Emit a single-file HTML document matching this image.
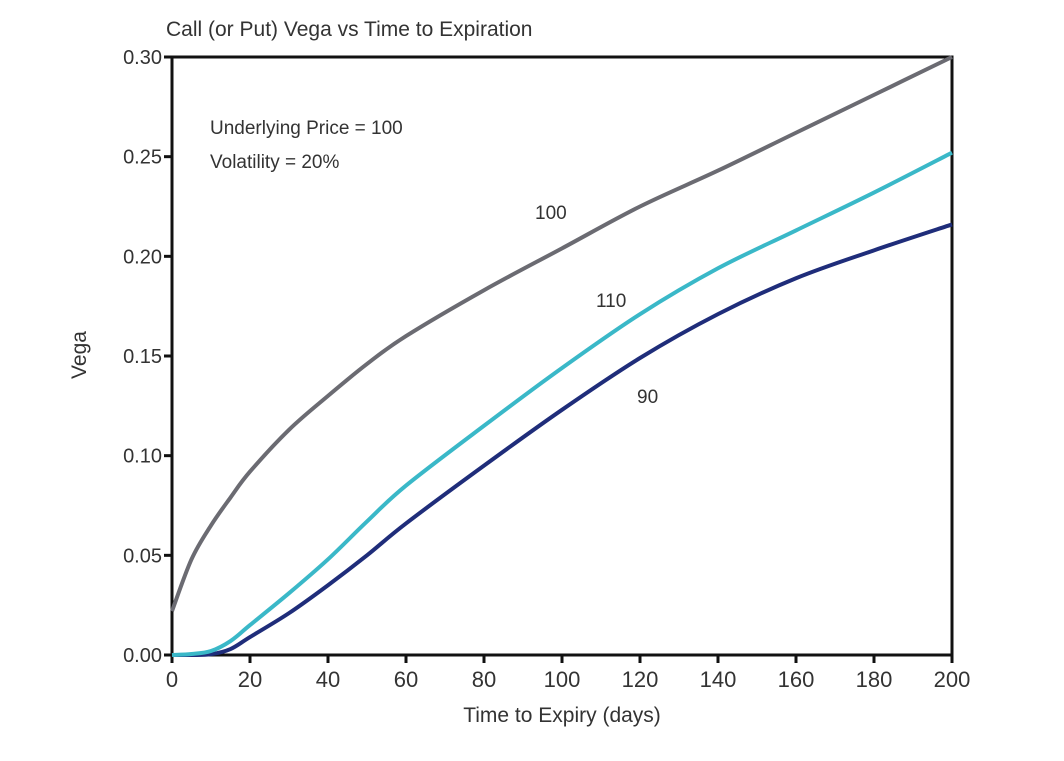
<!DOCTYPE html>
<html><head><meta charset="utf-8"><style>
body{margin:0;background:#fff;}
svg text{font-family:"Liberation Sans",sans-serif;fill:#333;}
</style></head><body>
<svg id="chart" width="1064" height="756" xmlns="http://www.w3.org/2000/svg"></svg>
<script>
const days=[0,5,10,15,20,30,40,50,60,80,100,120,140,160,180,200];
const vega100=[0.022,0.048,0.065,0.079,0.092,0.113,0.130,0.146,0.160,0.183,0.204,0.225,0.243,0.262,0.281,0.300];
const vega110=[0,0.0005,0.002,0.007,0.015,0.031,0.048,0.067,0.085,0.115,0.144,0.171,0.194,0.213,0.232,0.252];
const vega90=[0,0,0.0004,0.003,0.009,0.021,0.035,0.050,0.066,0.095,0.123,0.149,0.171,0.189,0.203,0.216];
const xTicks=[0,20,40,60,80,100,120,140,160,180,200];
const yTicks=[0,0.05,0.10,0.15,0.20,0.25,0.30];
const L=172,R=952,T=57,B=655;
const sx=v=>L+(v/200)*(R-L), sy=v=>B-(v/0.30)*(B-T);
const svg=document.getElementById('chart'),NS='http://www.w3.org/2000/svg';
function mk(t,a,txt){const e=document.createElementNS(NS,t);for(const k in a)e.setAttribute(k,a[k]);if(txt!==undefined)e.textContent=txt;svg.appendChild(e);return e;}
function path(xs,ys){const p=xs.map((x,i)=>[sx(x),sy(ys[i])]);let d='M'+p[0][0]+','+p[0][1];
for(let i=0;i<p.length-1;i++){const p0=p[Math.max(0,i-1)],p1=p[i],p2=p[i+1],p3=p[Math.min(p.length-1,i+2)];
d+=' C'+(p1[0]+(p2[0]-p0[0])/6)+','+(p1[1]+(p2[1]-p0[1])/6)+' '+(p2[0]-(p3[0]-p1[0])/6)+','+(p2[1]-(p3[1]-p1[1])/6)+' '+p2[0]+','+p2[1];}return d;}
let e;
e=mk('text',{x:166,y:36,'font-size':21},'Call (or Put) Vega vs Time to Expiration');

e=mk('rect',{x:L,y:T,width:R-L,height:B-T,fill:'none',stroke:'#111','stroke-width':3});

xTicks.forEach(v=>{e=mk('line',{x1:sx(v),x2:sx(v),y1:B,y2:B+8,stroke:'#111','stroke-width':3});

e=mk('text',{x:sx(v),y:B+32,'font-size':22,'text-anchor':'middle'},String(v));
});
yTicks.forEach(v=>{e=mk('line',{x1:L-8,x2:L,y1:sy(v),y2:sy(v),stroke:'#111','stroke-width':3});

e=mk('text',{x:L-10,y:sy(v)+7,'font-size':20,'text-anchor':'end'},v.toFixed(2));
});
e=mk('text',{x:562,y:722,'font-size':21,'text-anchor':'middle'},'Time to Expiry (days)');

e=mk('text',{x:0,y:0,'font-size':21,'text-anchor':'middle',transform:'translate(86,355) rotate(-90)'},'Vega');

e=mk('text',{x:210,y:134,'font-size':19},'Underlying Price = 100');

e=mk('text',{x:210,y:168,'font-size':19},'Volatility = 20%');

[[vega90,'#1f2d7a','series-strike-90'],[vega110,'#3ab8c8','series-strike-110'],[vega100,'#6b6b72','series-strike-100']].forEach(s=>{
e=mk('path',{d:path(days,s[0]),fill:'none',stroke:s[1],'stroke-width':4});
});
e=mk('text',{x:535,y:219,'font-size':19},'100');

e=mk('text',{x:596,y:307,'font-size':19},'110');

e=mk('text',{x:637,y:403,'font-size':19},'90');

</script>
</body></html>
